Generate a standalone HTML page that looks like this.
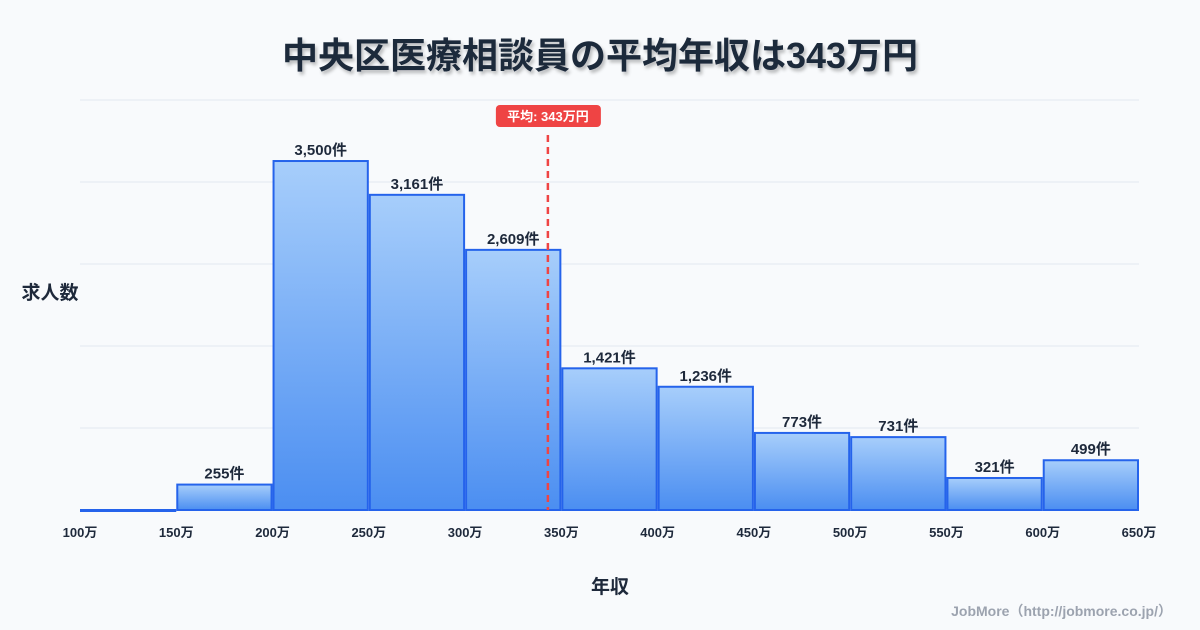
<!DOCTYPE html>
<html><head><meta charset="utf-8">
<style>
body{margin:0;background:#f8fafc;}
svg{display:block;font-family:"Liberation Sans","Noto Sans CJK JP",sans-serif;}
</style></head>
<body>
<svg id="chart" width="1200" height="630" viewBox="0 0 1200 630" xmlns="http://www.w3.org/2000/svg">
<defs>
<linearGradient id="bg" x1="0" y1="0" x2="0" y2="1">
<stop offset="0" stop-color="#a7cefb"/><stop offset="1" stop-color="#4b8ef1"/>
</linearGradient>
<filter id="sh" x="-5%" y="-20%" width="110%" height="140%"><feDropShadow dx="2" dy="3" stdDeviation="1.5" flood-color="#000" flood-opacity="0.25"/></filter>
</defs>
<rect width="1200" height="630" fill="#f8fafc"/>
<text x="600" y="68" text-anchor="middle" font-size="36" font-weight="bold" fill="#1e293b" filter="url(#sh)">中央区医療相談員の平均年収は343万円</text>
<g id="grid"></g>
<g id="bars"></g>
<g id="xt"></g>
<text x="50" y="299" text-anchor="middle" font-size="19" font-weight="bold" fill="#1e293b">求人数</text>
<text x="610" y="593" text-anchor="middle" font-size="19" font-weight="bold" fill="#1e293b">年収</text>
<text x="1172" y="616" text-anchor="end" font-size="14" font-weight="bold" fill="#9ca3af">JobMore（http://jobmore.co.jp/）</text>
<g id="avg"></g>
</svg>
<script>
const bins = [100,150,200,250,300,350,400,450,500,550,600];
const values = [0,255,3500,3161,2609,1421,1236,773,731,321,499];
const labels = ["","255件","3,500件","3,161件","2,609件","1,421件","1,236件","773件","731件","321件","499件"];
const ticks = [100,150,200,250,300,350,400,450,500,550,600,650];
const avg = 343;
const avgLabel = "平均: 343万円";
const NS="http://www.w3.org/2000/svg";
const X0=80,X1=1139,XMIN=100,XMAX=650,Y0=510,H=410,YMAX=4112;
const x=v=>X0+(v-XMIN)/(XMAX-XMIN)*(X1-X0);
const y=v=>Y0-v/YMAX*H;
function mk(t,a,p){const e=document.createElementNS(NS,t);for(const k in a)e.setAttribute(k,a[k]);p.appendChild(e);return e;}
const g=document.getElementById('grid');
for(let i=0;i<=5;i++){const l=mk('line',{x1:X0,x2:X1,y1:Y0-H*i/5,y2:Y0-H*i/5,stroke:'#e2e8f0','stroke-width':1},g);

}
const b=document.getElementById('bars');
bins.forEach((s,i)=>{const xl=x(s)+1,xr=x(s+50)-1,yt=y(values[i]);
const r=mk('rect',{x:xl,y:yt,width:xr-xl,height:Math.max(Y0-yt,1),fill:'url(#bg)',stroke:'#2563eb','stroke-width':2},b);


if(labels[i]){const t=mk('text',{x:(xl+xr)/2,y:yt-6,'text-anchor':'middle','font-size':15,'font-weight':'bold',fill:'#1e293b'},b);t.textContent=labels[i];

}
});
const xt=document.getElementById('xt');
ticks.forEach(v=>{const t=mk('text',{x:x(v),y:537,'text-anchor':'middle','font-size':13,'font-weight':'bold',fill:'#1e293b'},xt);t.textContent=v+'万';

});
const a=document.getElementById('avg');const ax=x(avg);
const l=mk('line',{x1:ax,x2:ax,y1:135,y2:Y0,stroke:'#ef4444','stroke-width':2.5,'stroke-dasharray':'7,5'},a);


const rb=mk('rect',{x:ax-52,y:105,width:105,height:22,rx:4,fill:'#ef4444'},a);


const at=mk('text',{x:ax,y:121,'text-anchor':'middle','font-size':13,'font-weight':'bold',fill:'#fff'},a);at.textContent=avgLabel;


</script>
</body></html>
